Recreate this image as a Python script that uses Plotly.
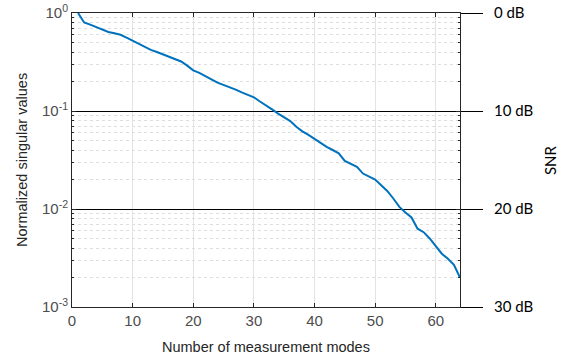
import plotly.graph_objects as go

modes = list(range(1, 65))
singular_values = [
    1.0, 0.80, 0.76, 0.72, 0.68, 0.64, 0.62, 0.60, 0.56, 0.52,
    0.48, 0.45, 0.42, 0.40, 0.38, 0.36, 0.34, 0.32, 0.29, 0.26,
    0.245, 0.225, 0.21, 0.195, 0.185, 0.175, 0.165, 0.155, 0.147, 0.138,
    0.125, 0.115, 0.104, 0.094, 0.087, 0.079, 0.069, 0.062, 0.057, 0.052,
    0.047, 0.043, 0.040, 0.037, 0.031, 0.029, 0.027, 0.023, 0.0215, 0.020,
    0.0175, 0.0153, 0.0128, 0.0105, 0.0092, 0.0082, 0.0063, 0.0058, 0.0050, 0.0042,
    0.0035, 0.0031, 0.0027, 0.0020,
]
y_tick_vals = [0.001, 0.01, 0.1, 1]
y_tick_text = ["10<sup>-3</sup>", "10<sup>-2</sup>", "10<sup>-1</sup>", "10<sup>0</sup>"]
snr_db = [30, 20, 10, 0]
snr_text = [f"{d} dB" for d in snr_db]
x_tick_vals = [0, 10, 20, 30, 40, 50, 60]
x_title = "Number of measurement modes"
y_title = "Normalized singular values"
y2_title = "SNR"

minor_vals = [m * 10 ** e for e in (-3, -2, -1) for m in range(2, 10)]

fig = go.Figure()
fig.add_trace(go.Scatter(
    x=modes, y=singular_values, mode="lines",
    line=dict(color="#0072BD", width=2), showlegend=False, hoverinfo="skip",
))
# invisible trace so the right-hand SNR axis is drawn
fig.add_trace(go.Scatter(
    x=modes, y=singular_values, mode="lines",
    line=dict(color="rgba(0,0,0,0)", width=0), showlegend=False, hoverinfo="skip",
    yaxis="y2",
))

axis_font = dict(family="Liberation Sans, Arial", size=14.5, color="#262626")
tick_font = dict(family="Liberation Sans, Arial", size=15, color="#4d4d4d")
snr_font = dict(family="Lato, Open Sans", size=15, color="black")

fig.update_layout(
    width=570, height=364,
    margin=dict(l=72, r=110, t=13, b=57),
    paper_bgcolor="white", plot_bgcolor="white",
    xaxis=dict(
        range=[0, 64], tickvals=x_tick_vals, ticks="inside", ticklen=4,
        tickcolor="#262626", showline=True, linecolor="#262626", linewidth=1,
        mirror="ticks", showgrid=True, gridcolor="#e3e3e3", gridwidth=1,
        zeroline=False, tickfont=tick_font, automargin=False,
        ticklabeloverflow="allow",
    ),
    yaxis=dict(
        type="log", range=[-3, 0], tickvals=y_tick_vals, ticktext=y_tick_text,
        ticks="inside", ticklen=4, tickcolor="#262626",
        showline=True, linecolor="#262626", linewidth=1, mirror="ticks",
        showgrid=True, gridcolor="black", gridwidth=1, zeroline=False,
        tickfont=tick_font, automargin=False, ticklabeloverflow="allow",
        minor=dict(tickvals=minor_vals, showgrid=True, gridcolor="#dedede",
                   griddash="dot", gridwidth=1, ticks="inside", ticklen=2,
                   tickcolor="#262626"),
    ),
    yaxis2=dict(
        type="log", range=[-3, 0], overlaying="y", side="right",
        tickvals=[10 ** (-d / 10) for d in snr_db], ticktext=snr_text,
        ticks="outside", ticklen=22, tickcolor="black", tickwidth=1,
        ticklabelstandoff=8, automargin=False, ticklabeloverflow="allow",
        showgrid=False, showline=False, zeroline=False,
        tickfont=snr_font,
    ),
    annotations=[
        dict(text=x_title, xref="paper", yref="paper", x=0.5, y=-0.136,
             xanchor="center", yanchor="middle", showarrow=False, font=axis_font),
        dict(text=y_title, xref="paper", yref="paper", x=-0.129, y=0.5,
             xanchor="center", yanchor="middle", textangle=-90, showarrow=False,
             font=axis_font),
        dict(text=y2_title, xref="paper", yref="paper", x=1.232, y=0.5,
             xanchor="center", yanchor="middle", textangle=-90, showarrow=False,
             font=snr_font),
    ],
)

fig.write_html("out.html", config={"displayModeBar": False},
               post_script="document.body.style.margin='0';")
